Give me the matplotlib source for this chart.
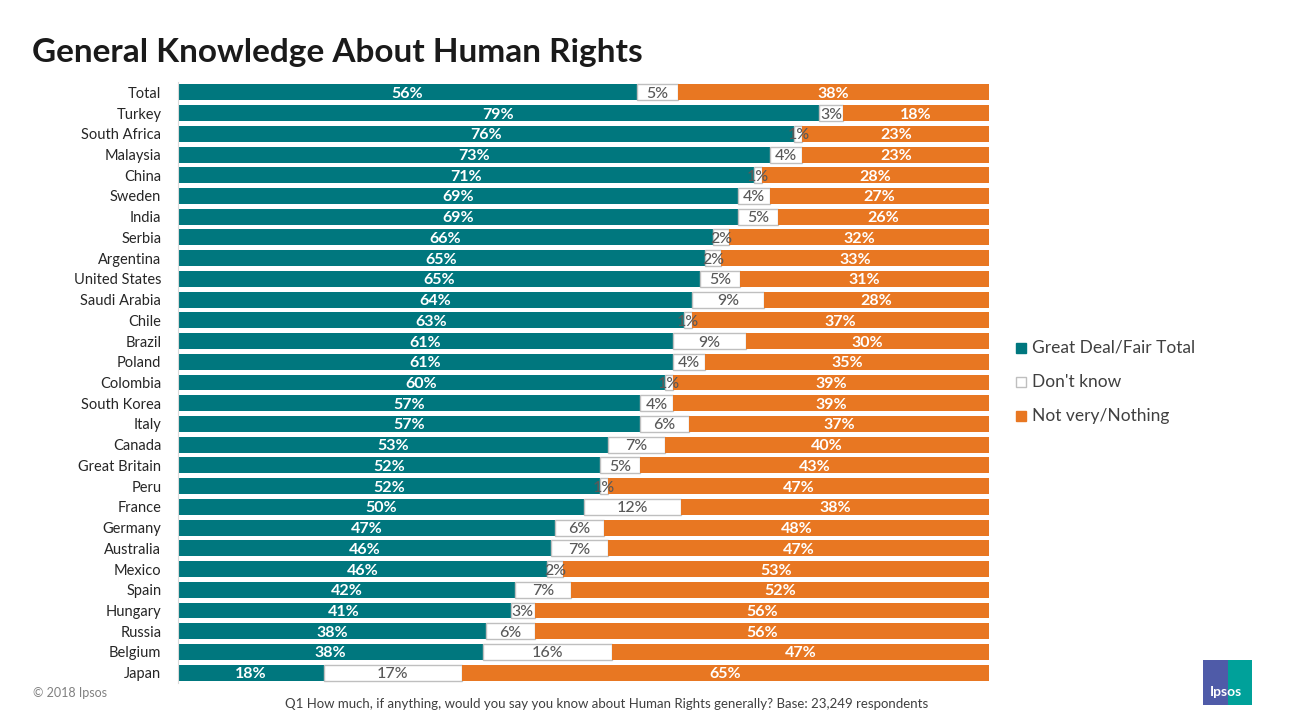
import matplotlib
matplotlib.use("Agg")
import matplotlib.pyplot as plt
import numpy as np
from matplotlib.patches import Rectangle

plt.rcParams['font.family'] = ['Lato', 'DejaVu Sans']

# data
countries = ['Total', 'Turkey', 'South Africa', 'Malaysia', 'China', 'Sweden', 'India',
             'Serbia', 'Argentina', 'United States', 'Saudi Arabia', 'Chile', 'Brazil',
             'Poland', 'Colombia', 'South Korea', 'Italy', 'Canada', 'Great Britain',
             'Peru', 'France', 'Germany', 'Australia', 'Mexico', 'Spain', 'Hungary',
             'Russia', 'Belgium', 'Japan']
great_deal = [56, 79, 76, 73, 71, 69, 69, 66, 65, 65, 64, 63, 61, 61, 60, 57, 57, 53,
              52, 52, 50, 47, 46, 46, 42, 41, 38, 38, 18]
dont_know = [5, 3, 1, 4, 1, 4, 5, 2, 2, 5, 9, 1, 9, 4, 1, 4, 6, 7, 5, 1, 12, 6, 7, 2,
             7, 3, 6, 16, 17]
not_very = [38, 18, 23, 23, 28, 27, 26, 32, 33, 31, 28, 37, 30, 35, 39, 39, 37, 40, 43,
            47, 38, 48, 47, 53, 52, 56, 56, 47, 65]

teal = '#00777E'
orange = '#E87722'
grey_edge = '#BFBFBF'

# 100% stacked, like the excel chart
g = np.array(great_deal, dtype=float)
d = np.array(dont_know, dtype=float)
n = np.array(not_very, dtype=float)
tot = g + d + n
g_s, d_s, n_s = g / tot * 100, d / tot * 100, n / tot * 100

fig = plt.figure(figsize=(13, 7.27), dpi=100)
ax = fig.add_axes([0.1369, 0.0605, 0.6239, 0.8267])

y = np.arange(len(countries))
h = 0.77
ax.barh(y, g_s, height=h, color=teal, zorder=2)
ax.barh(y, d_s, left=g_s, height=h, color='white', edgecolor=grey_edge, linewidth=1, zorder=2)
ax.barh(y, n_s, left=g_s + d_s, height=h, color=orange, zorder=2)

for i in range(len(countries)):
    ax.text(g_s[i] / 2, y[i], f'{great_deal[i]}%', ha='center', va='center_baseline',
            color='white', fontsize=11.5, fontweight='bold', zorder=4)
    ax.text(g_s[i] + d_s[i] / 2, y[i], f'{dont_know[i]}%', ha='center', va='center_baseline',
            color='#595959', fontsize=11.5, fontweight='medium', zorder=5)
    ax.text(g_s[i] + d_s[i] + n_s[i] / 2, y[i], f'{not_very[i]}%', ha='center',
            va='center_baseline', color='white', fontsize=11.5, fontweight='bold', zorder=4)

ax.set_xlim(0, 100)
ax.set_ylim(len(countries) - 0.5, -0.5)
ax.set_yticks(y)
ax.set_yticklabels(countries, fontsize=10.5, color='#262626')
ax.tick_params(axis='y', length=0, pad=12)
ax.set_xticks([])
for s in ['top', 'right', 'bottom']:
    ax.spines[s].set_visible(False)
ax.spines['left'].set_color('#D9D9D9')

fig.text(0.0246, 0.915, 'General Knowledge About Human Rights', fontsize=24,
         fontweight='bold', color='#1A1A1A', ha='left', va='baseline')

# legend
leg_items = [('Great Deal/Fair Total', teal, teal),
             ("Don't know", 'white', grey_edge),
             ('Not very/Nothing', orange, orange)]
for k, (lab, fc, ec) in enumerate(leg_items):
    yy = 1 - (348 + 34 * k) / 727
    fig.patches.append(Rectangle((1016 / 1300, yy - 5 / 727), 10 / 1300, 10 / 727,
                                 transform=fig.transFigure, facecolor=fc, edgecolor=ec,
                                 linewidth=1))
    fig.text(1032 / 1300, yy, lab, fontsize=12.5, color='#404040', va='center', ha='left')

fig.text(33 / 1300, 1 - 693 / 727, '\u00a9 2018 Ipsos', fontsize=9, color='#808080',
         va='center', ha='left')
fig.text(607 / 1300, 1 - 704 / 727,
         'Q1 How much, if anything, would you say you know about Human Rights generally? Base: 23,249 respondents',
         fontsize=9.5, color='#404040', va='center', ha='center')

# logo
fig.patches.append(Rectangle((1203 / 1300, 1 - 705 / 727), 25 / 1300, 45 / 727,
                             transform=fig.transFigure, facecolor='#4F5BA8', edgecolor='none'))
fig.patches.append(Rectangle((1228 / 1300, 1 - 705 / 727), 24 / 1300, 45 / 727,
                             transform=fig.transFigure, facecolor='#00A19A', edgecolor='none'))
fig.text(1226 / 1300, 1 - 692 / 727, 'Ipsos', fontsize=10, fontweight='bold', color='white',
         ha='center', va='center')

fig.savefig('out.png', dpi=100)
